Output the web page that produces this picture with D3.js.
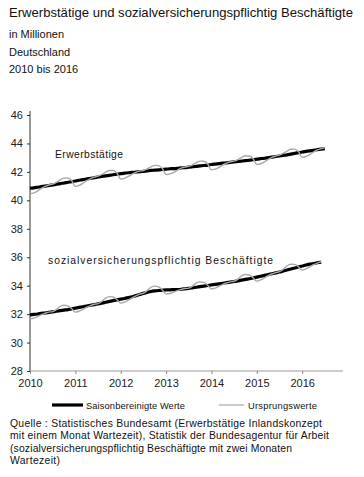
<!DOCTYPE html>
<html><head><meta charset="utf-8">
<script src="https://cdn.jsdelivr.net/npm/d3@7"></script>
<style>
body{margin:0;background:#fff;}
svg{display:block;font-family:"Liberation Sans",Arial,sans-serif;}
</style></head>
<body><svg id="c" width="364" height="477"></svg>
<script>
const yearTicks = [2010, 2011, 2012, 2013, 2014, 2015, 2016];
const yTicks = [28, 30, 32, 34, 36, 38, 40, 42, 44, 46];

// Monthly values from Jan 2010, in millions
const etAdjusted = [
  40.85, 40.88, 40.92, 40.96, 41.00, 41.04, 41.09, 41.13, 41.18, 41.22, 41.27, 41.31,
  41.36, 41.41, 41.46, 41.50, 41.55, 41.59, 41.64, 41.68, 41.72, 41.76, 41.80, 41.84,
  41.88, 41.91, 41.94, 41.96, 41.99, 42.01, 42.04, 42.07, 42.10, 42.12, 42.14, 42.17,
  42.20, 42.22, 42.23, 42.25, 42.28, 42.30, 42.33, 42.36, 42.39, 42.42, 42.45, 42.48,
  42.52, 42.55, 42.58, 42.61, 42.64, 42.67, 42.70, 42.73, 42.76, 42.79, 42.82, 42.86,
  42.90, 42.93, 42.96, 43.00, 43.04, 43.08, 43.12, 43.16, 43.20, 43.25, 43.30, 43.35,
  43.40, 43.44, 43.48, 43.52, 43.56, 43.60, 43.64
];
const etOriginal = [
  40.47, 40.52, 40.66, 40.84, 40.98, 41.08, 41.15, 41.27, 41.44, 41.56, 41.57, 41.39,
  40.98, 41.05, 41.20, 41.38, 41.53, 41.63, 41.70, 41.82, 41.98, 42.10, 42.10, 41.92,
  41.50, 41.55, 41.68, 41.84, 41.97, 42.05, 42.10, 42.21, 42.36, 42.46, 42.44, 42.25,
  41.82, 41.86, 41.97, 42.13, 42.26, 42.34, 42.39, 42.50, 42.65, 42.76, 42.75, 42.56,
  42.14, 42.19, 42.32, 42.49, 42.62, 42.71, 42.76, 42.87, 43.02, 43.13, 43.12, 42.94,
  42.52, 42.57, 42.70, 42.88, 43.02, 43.12, 43.18, 43.30, 43.46, 43.59, 43.60, 43.43,
  43.02, 43.08, 43.22, 43.40, 43.54, 43.64, 43.70
];
const svbAdjusted = [
  31.95, 31.98, 32.01, 32.05, 32.08, 32.12, 32.16, 32.20, 32.24, 32.28, 32.32, 32.37,
  32.42, 32.47, 32.52, 32.57, 32.62, 32.67, 32.72, 32.77, 32.83, 32.89, 32.95, 33.00,
  33.05, 33.10, 33.16, 33.22, 33.30, 33.38, 33.46, 33.53, 33.59, 33.63, 33.66, 33.68,
  33.70, 33.71, 33.72, 33.73, 33.75, 33.78, 33.81, 33.85, 33.89, 33.93, 33.97, 34.01,
  34.05, 34.09, 34.13, 34.17, 34.21, 34.25, 34.29, 34.34, 34.39, 34.44, 34.49, 34.54,
  34.60, 34.66, 34.72, 34.78, 34.84, 34.90, 34.96, 35.03, 35.10, 35.17, 35.24, 35.31,
  35.38, 35.45, 35.51, 35.56, 35.61, 35.66
];
const svbOriginal = [
  31.67, 31.72, 31.83, 31.97, 32.06, 32.14, 32.18, 32.32, 32.54, 32.62, 32.58, 32.39,
  32.14, 32.21, 32.34, 32.49, 32.60, 32.69, 32.74, 32.89, 33.13, 33.23, 33.21, 33.02,
  32.77, 32.84, 32.98, 33.14, 33.28, 33.40, 33.48, 33.65, 33.89, 33.97, 33.92, 33.70,
  33.42, 33.45, 33.54, 33.65, 33.73, 33.80, 33.83, 33.97, 34.19, 34.27, 34.23, 34.03,
  33.77, 33.83, 33.95, 34.09, 34.19, 34.27, 34.31, 34.46, 34.69, 34.78, 34.75, 34.56,
  34.32, 34.40, 34.54, 34.70, 34.82, 34.92, 34.98, 35.15, 35.40, 35.51, 35.50, 35.33,
  35.10, 35.19, 35.33, 35.48, 35.59, 35.68
];

const title = "Erwerbstätige und sozialversicherungspflichtig Beschäftigte";
const subtitles = ["in Millionen", "Deutschland", "2010 bis 2016"];
const seriesLabels = ["Erwerbstätige", "sozialversicherungspflichtig Beschäftigte"];
const legendLabels = ["Saisonbereinigte Werte", "Ursprungswerte"];
const sourceLines = [
  "Quelle : Statistisches Bundesamt (Erwerbstätige Inlandskonzept",
  "mit einem Monat Wartezeit), Statistik der Bundesagentur für Arbeit",
  "(sozialversicherungspflichtig Beschäftigte mit zwei Monaten",
  "Wartezeit)"
];

const svg = d3.select("#c");
const x = d3.scaleLinear().domain([2010, 2016.9]).range([30, 343]);
const y = d3.scaleLinear().domain([28, 46]).range([371, 115]);
const t = i => 2010 + i / 12;

// Title & subtitles
svg.append("text").attr("x", 9).attr("y", 17).attr("font-size", 12.6).attr("fill", "#111")
  .attr("textLength", 344).attr("lengthAdjust", "spacingAndGlyphs").text(title);
subtitles.forEach((s, i) => svg.append("text").attr("x", 9).attr("y", 38 + i * 17.5)
  .attr("font-size", 11).attr("fill", "#111").text(s));

// Y axis
const ya = svg.append("g").attr("transform", "translate(30,0)")
  .call(d3.axisLeft(y).tickValues(yTicks).tickSize(3).tickPadding(4).tickFormat(d3.format("d")));
ya.select(".domain").attr("stroke", "#333").attr("d", "M-0,371V111");
ya.selectAll("line").attr("stroke", "#333");
ya.selectAll("text").attr("font-size", 11).attr("fill", "#222").attr("font-family", "Liberation Sans, Arial, sans-serif");

// X axis
const xa = svg.append("g").attr("transform", "translate(0,371)")
  .call(d3.axisBottom(x).tickValues(yearTicks).tickSize(3).tickPadding(5).tickFormat(d3.format("d")));
xa.select(".domain").attr("stroke", "#999").attr("stroke-width", 1.2).attr("d", "M30,0H343");
xa.selectAll("line").attr("stroke", "#888");
xa.selectAll("text").attr("font-size", 11).attr("fill", "#222").attr("font-family", "Liberation Sans, Arial, sans-serif");

const line = d3.line().x((d, i) => x(t(i))).y(d => y(d)).curve(d3.curveMonotoneX);

[[etAdjusted, etOriginal], [svbAdjusted, svbOriginal]].forEach(([adj, orig]) => {
  svg.append("path").datum(adj).attr("d", line).attr("fill", "none")
    .attr("stroke", "#000").attr("stroke-width", 3.2).attr("stroke-linejoin", "round");
  svg.append("path").datum(orig).attr("d", line).attr("fill", "none")
    .attr("stroke", "#a8a8a8").attr("stroke-width", 1.4);
});

// Series labels
svg.append("text").attr("x", 55).attr("y", 158).attr("font-size", 10.3).attr("fill", "#111")
  .attr("textLength", 68).attr("lengthAdjust", "spacing").text(seriesLabels[0]);
svg.append("text").attr("x", 48).attr("y", 264).attr("font-size", 10.3).attr("fill", "#111")
  .attr("textLength", 225).attr("lengthAdjust", "spacing").text(seriesLabels[1]);

// Legend
svg.append("line").attr("x1", 52).attr("x2", 83).attr("y1", 405).attr("y2", 405).attr("stroke", "#000").attr("stroke-width", 3.2);
svg.append("text").attr("x", 86).attr("y", 408.5).attr("font-size", 9.3).attr("fill", "#111")
  .attr("textLength", 99).attr("lengthAdjust", "spacing").text(legendLabels[0]);
svg.append("line").attr("x1", 219).attr("x2", 244).attr("y1", 405).attr("y2", 405).attr("stroke", "#a8a8a8").attr("stroke-width", 1.2);
svg.append("text").attr("x", 248).attr("y", 408.5).attr("font-size", 9.3).attr("fill", "#111")
  .attr("textLength", 69).attr("lengthAdjust", "spacing").text(legendLabels[1]);

// Source
const srcLen = [312, 319, 282, 50];
sourceLines.forEach((s, i) => svg.append("text").attr("x", 10).attr("y", 427 + i * 12.4)
  .attr("font-size", 10.4).attr("fill", "#111")
  .attr("textLength", srcLen[i]).attr("lengthAdjust", "spacing").text(s));
</script></body></html>
